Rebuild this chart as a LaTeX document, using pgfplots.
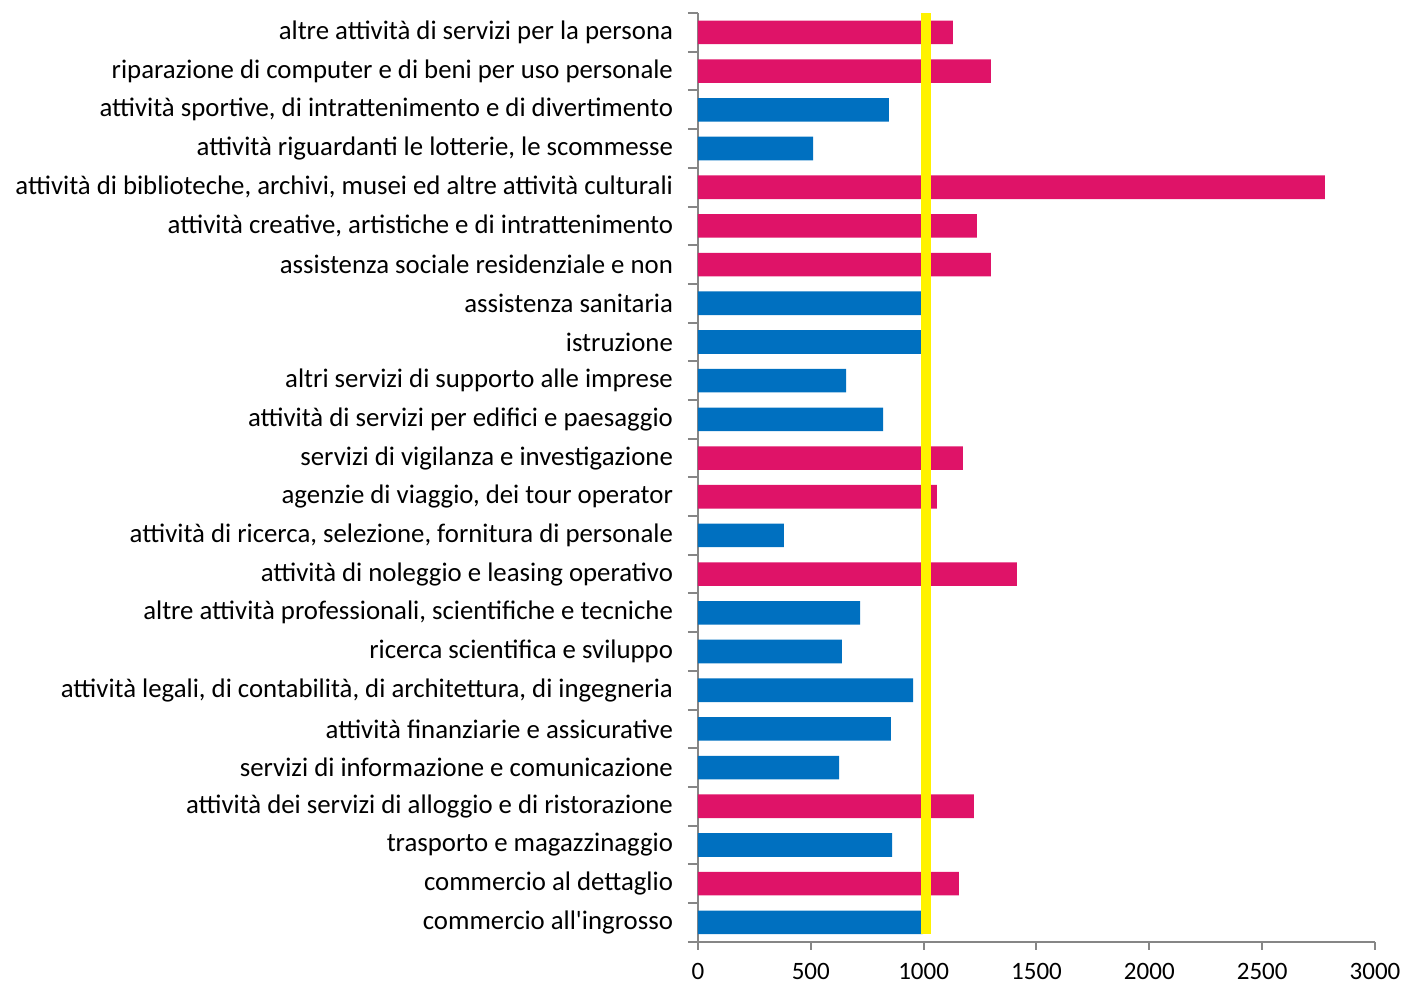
\documentclass[border=0pt]{standalone}
\usepackage{fontspec}
\setmainfont{Carlito}
\usepackage{pgfplots}
\pgfplotsset{compat=1.18}
\definecolor{pinkbar}{RGB}{223,19,104}
\definecolor{bluebar}{RGB}{0,112,192}
\definecolor{axisgray}{RGB}{134,134,134}
\begin{document}
\begin{tikzpicture}
% 1 px of the reference = 0.5pt; axis origin at px (698, 941.7)
\useasboundingbox (-349pt,-25.5pt) rectangle (354pt,470.85pt);
\begin{axis}[
  at={(0,0)}, anchor=south west,
  scale only axis, width=338.5pt, height=464.3pt,
  xmin=0, xmax=3000, ymin=-0.5, ymax=23.5,
  axis lines*=left,
  axis line style={axisgray, line width=1pt},
  tick align=outside,
  xtick={0,500,...,3000},
  x tick style={axisgray, line width=1pt},
  major tick length=4pt,
  x tick label style={font=\fontsize{12.5}{14}\selectfont, yshift=-5.5pt, inner sep=1pt},
  /pgf/number format/assume math mode=true,
  /pgf/number format/1000 sep={},
  ytick={0,...,23},
  y tick style={draw=none},
  y tick label style={font=\fontsize{13.4}{15}\selectfont, xshift=-5pt},
  yticklabels={
    {commercio all\textquotesingle ingrosso\ },
    {commercio al dettaglio},
    {trasporto e magazzinaggio},
    {attività dei servizi di alloggio e di ristorazione},
    {servizi di informazione e comunicazione},
    {attività finanziarie e assicurative},
    {attività legali, di contabilità, di architettura, di ingegneria},
    {ricerca scientifica e sviluppo},
    {altre attività professionali, scientifiche e tecniche},
    {attività di noleggio e leasing operativo},
    {attività di ricerca, selezione, fornitura di personale},
    {agenzie di viaggio, dei tour operator\ },
    {servizi di vigilanza e investigazione},
    {attività di servizi per edifici e paesaggio},
    {altri servizi di supporto alle imprese},
    {istruzione},
    {assistenza sanitaria},
    {assistenza sociale residenziale e non},
    {attività creative, artistiche e di intrattenimento},
    {attività di biblioteche, archivi, musei ed altre attività culturali},
    {attività riguardanti le lotterie, le scommesse},
    {attività sportive, di intrattenimento e di divertimento},
    {riparazione di computer e di beni per uso personale},
    {altre attività di servizi per la persona}
  },
  extra y ticks={-0.5,0.5,...,23.5},
  extra y tick labels={},
  extra y tick style={y tick style={draw=axisgray, line width=1pt}, major tick length=5pt},
]
% above the reference line
\addplot[xbar, bar width=0.61, bar shift=0pt, fill=pinkbar, draw=none] coordinates {
  (1156,1) (1223,3) (1413,9) (1059,11) (1174,12) (1298,17) (1236,18) (2778,19) (1298,22) (1130,23)
};
% below the reference line
\addplot[xbar, bar width=0.61, bar shift=0pt, fill=bluebar, draw=none] coordinates {
  (995,0) (860,2) (625,4) (855,5) (953,6) (638,7) (718,8) (381,10) (820,13) (656,14)
  (995,15) (995,16) (510,20) (846,21)
};
% reference value
\addplot[yellow, line width=5.35pt] coordinates {(1011,-0.3) (1011,23.5)};
\end{axis}
\end{tikzpicture}
\end{document}
